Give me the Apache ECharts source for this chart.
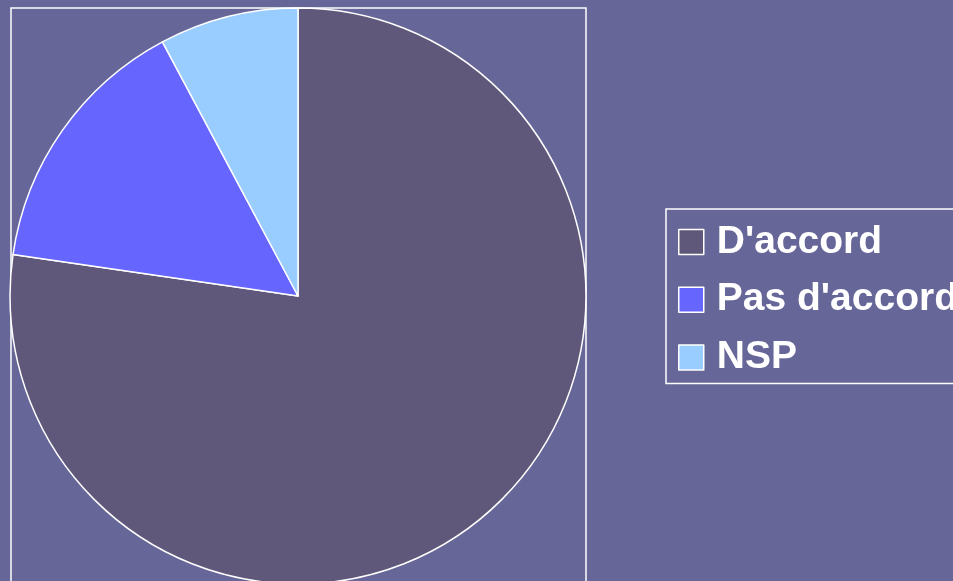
<!DOCTYPE html>
<html>
<head>
<meta charset="utf-8">
<script src="https://cdn.jsdelivr.net/npm/echarts@6/dist/echarts.min.js"></script>
<style>
html,body{margin:0;padding:0;background:#666699;}
#chart{width:953px;height:581px;}
</style>
</head>
<body>
<div id="chart"></div>
<script>
const categories = ["D'accord", "Pas d'accord", "NSP"];
const values = [77.3, 14.9, 7.8];
const colors = ['#5f587a', '#6666ff', '#99ccff'];

const chart = echarts.init(document.getElementById('chart'), null, {renderer: 'canvas'});
chart.setOption({
  backgroundColor: '#666699',
  animation: false,
  graphic: [{
    type: 'rect',
    z: 0,
    shape: {x: 11, y: 8, width: 575, height: 600},
    style: {fill: 'none', stroke: '#ffffff', lineWidth: 1.5}
  }],
  legend: {
    orient: 'vertical',
    left: 666,
    top: 209,
    padding: [12, 20, 5, 12],
    backgroundColor: '#666699',
    borderColor: '#ffffff',
    borderWidth: 1.5,
    borderRadius: 0,
    itemWidth: 25,
    itemHeight: 25,
    itemGap: 15.7,
    icon: 'rect',
    itemStyle: {borderColor: '#ffffff', borderWidth: 1.5},
    textStyle: {
      color: '#ffffff',
      fontFamily: '"Liberation Sans", Arial, sans-serif',
      fontWeight: 'bold',
      fontSize: 39,
      lineHeight: 40,
      padding: [2, 0, 0, 8]
    },
    data: categories
  },
  series: [{
    type: 'pie',
    center: [298, 296],
    radius: [0, 288],
    startAngle: 90,
    clockwise: true,
    label: {show: false},
    labelLine: {show: false},
    emphasis: {disabled: true},
    itemStyle: {borderColor: '#ffffff', borderWidth: 1.5},
    data: categories.map((c, i) => ({name: c, value: values[i], itemStyle: {color: colors[i]}}))
  }]
});
</script>
</body>
</html>
